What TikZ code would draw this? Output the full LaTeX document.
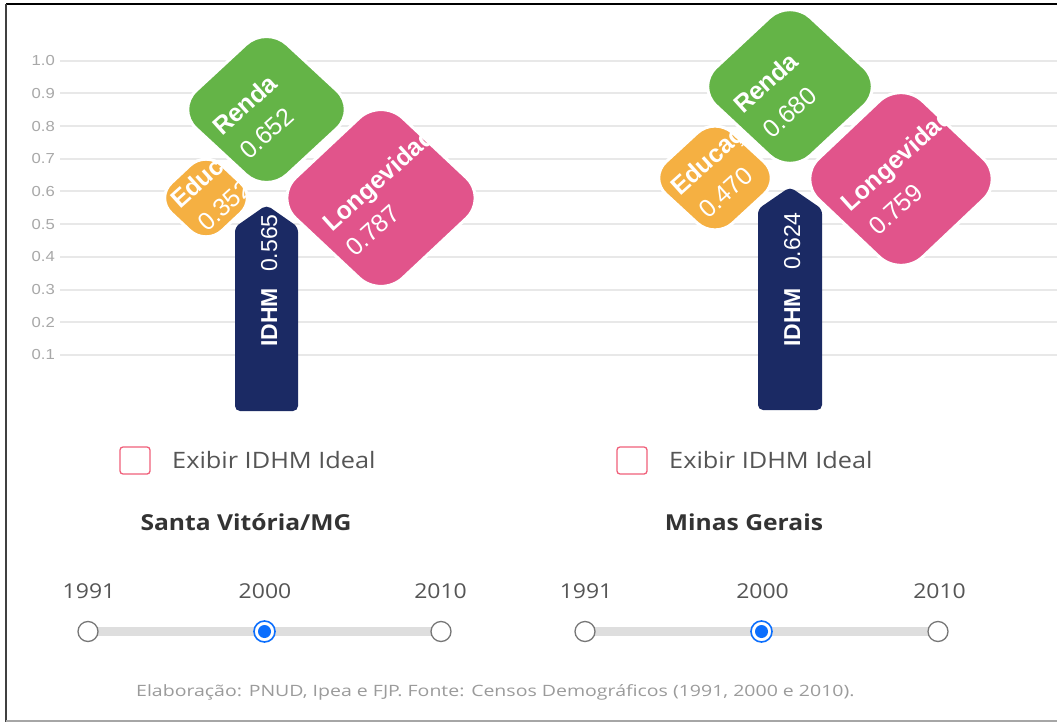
\documentclass[tikz,border=0pt]{standalone}
\usepackage{fontspec}
\setmainfont{Liberation Sans}
\newfontfamily\osans[FakeStretch=1.12]{Open Sans}
\newfontfamily\footfont[FakeStretch=1.25]{Open Sans}
\newfontfamily\axfont[FakeStretch=1.15]{Liberation Sans}
\definecolor{cRenda}{HTML}{64B447}
\definecolor{cLong}{HTML}{E1548B}
\definecolor{cEdu}{HTML}{F5B042}
\definecolor{cIdhm}{HTML}{1B2A64}
\definecolor{cGrid}{HTML}{E8E8E8}
\definecolor{cAxis}{HTML}{A8A8A8}
\definecolor{cText}{HTML}{555555}
\definecolor{cTitle}{HTML}{333333}
\definecolor{cCheck}{HTML}{F0607A}
\definecolor{cTrack}{HTML}{DEDEDE}
\definecolor{cRing}{HTML}{777777}
\definecolor{cBlue}{HTML}{0B6EFD}
\definecolor{cFoot}{HTML}{9B9B9B}
\tikzset{
  dia/.style n args={4}{insert path={(#1,#2-#4) -- (#1+#3,#2) -- (#1,#2+#4) -- (#1-#3,#2) -- cycle}},
  gridline/.style={cGrid, line width=2pt},
  axlbl/.style={text=cAxis, inner sep=0pt, anchor=east, font=\axfont\fontsize{14.5}{14.5}\selectfont},
  petaltxt/.style={text=white, inner sep=0pt, anchor=base west, rotate=42, font=\fontsize{25}{25}\selectfont},
  bartxt/.style={text=white, inner sep=0pt, anchor=base west, rotate=90, font=\fontsize{23}{23}\selectfont},
  petaledge/.style={draw=white, line width=3pt},
  checkbox/.style={draw=cCheck, line width=1.3pt, rounded corners=3pt},
  uitxt/.style={text=cText, inner sep=0pt, font=\osans\fontsize{22.6}{22.6}\selectfont},
  titletxt/.style={text=cTitle, inner sep=0pt, anchor=base, font=\osans\bfseries\fontsize{22}{22}\selectfont},
  yeartxt/.style={text=cText, inner sep=0pt, anchor=base, font=\osans\fontsize{20.5}{20.5}\selectfont},
  track/.style={cTrack, line width=9pt},
  knob/.style={circle, draw=cRing, fill=white, line width=1.3pt, minimum size=20pt, inner sep=0pt},
  knobsel/.style={circle, draw=cBlue, fill=white, line width=1.6pt, minimum size=21pt, inner sep=0pt},
  knobdot/.style={circle, fill=cBlue, minimum size=13pt, inner sep=0pt},
}
\begin{document}
\begin{tikzpicture}[x=1pt,y=-1pt]
\useasboundingbox (0,0) rectangle (1057,722);
\fill[white] (0,0) rectangle (1057,722);
% frame
\draw[black, line width=1.5pt] (6,4) -- (1057,4);
\draw[black!75, line width=2pt] (6,4) -- (6,722);
\draw[black!35, line width=2pt] (6,720.8) -- (1057,720.8);
% grid and axis labels
\foreach \yy/\lab [count=\k] in {60.7/1.0, 93.4/0.9, 126.1/0.8, 158.8/0.7, 191.5/0.6, 224.2/0.5, 256.9/0.4, 289.6/0.3, 322.3/0.2, 355/0.1} {
  \draw[gridline] (60,\yy) -- (1057,\yy);
  \node[axlbl] (ax\k) at (55,\yy) {\lab};
}
% ---------------- left chart ----------------
% Educacao
\fill[cEdu, rounded corners=22pt, dia={206}{198}{50.7}{47.6}];
\begin{scope}
  \clip[rounded corners=22pt, dia={206}{198}{50.7}{47.6}];
  \node[petaltxt] (leduN) at (180,210) {\bfseries Educação};
  \node[petaltxt] (leduV) at (207,233) {0.352};
\end{scope}
\draw[petaledge, rounded corners=22pt, dia={206}{198}{50.7}{47.6}];
% Renda
\fill[cRenda, rounded corners=28pt, dia={266.5}{109.5}{90.8}{84.1}];
\begin{scope}
  \clip[rounded corners=28pt, dia={266.5}{109.5}{90.8}{84.1}];
  \node[petaltxt] (lrenN) at (222,137) {\bfseries Renda};
  \node[petaltxt] (lrenV) at (249,161) {0.652};
\end{scope}
\draw[petaledge, rounded corners=28pt, dia={266.5}{109.5}{90.8}{84.1}];
% Longevidade
\fill[cLong, rounded corners=30pt, dia={381}{198}{107}{100.4}];
\begin{scope}
  \clip[rounded corners=30pt, dia={381}{198}{107}{100.4}];
  \node[petaltxt] (llonN) at (332,233) {\bfseries Longevidade};
  \node[petaltxt] (llonV) at (355,258) {0.787};
\end{scope}
\draw[petaledge, rounded corners=30pt, dia={381}{198}{107}{100.4}];
% IDHM bar
\fill[cIdhm, rounded corners=5pt] (235,411) -- (235,227) -- (266.5,205) -- (298,227) -- (298,411) -- cycle;
\node[bartxt] (lidN) at (277,347) {\bfseries IDHM};
\node[bartxt] (lidV) at (277,272) {0.565};
% ---------------- right chart ----------------
\fill[cEdu, rounded corners=24pt, dia={715}{178}{66.6}{61.4}];
\begin{scope}
  \clip[rounded corners=24pt, dia={715}{178}{66.6}{61.4}];
  \node[petaltxt] (reduN) at (680,197) {\bfseries Educação};
  \node[petaltxt] (reduV) at (708,220) {0.470};
\end{scope}
\draw[petaledge, rounded corners=24pt, dia={715}{178}{66.6}{61.4}];
\fill[cRenda, rounded corners=28pt, dia={790}{86.5}{94.3}{88}];
\begin{scope}
  \clip[rounded corners=28pt, dia={790}{86.5}{94.3}{88}];
  \node[petaltxt] (rrenN) at (743,115) {\bfseries Renda};
  \node[petaltxt] (rrenV) at (772,140) {0.680};
\end{scope}
\draw[petaledge, rounded corners=28pt, dia={790}{86.5}{94.3}{88}];
\fill[cLong, rounded corners=30pt, dia={901}{179}{104}{98.4}];
\begin{scope}
  \clip[rounded corners=30pt, dia={901}{179}{104}{98.4}];
  \node[petaltxt] (rlonN) at (850,213) {\bfseries Longevidade};
  \node[petaltxt] (rlonV) at (878,237) {0.759};
\end{scope}
\draw[petaledge, rounded corners=30pt, dia={901}{179}{104}{98.4}];
\fill[cIdhm, rounded corners=5pt] (758,410) -- (758,209) -- (790,187) -- (822,209) -- (822,410) -- cycle;
\node[bartxt] (ridN) at (800,347) {\bfseries IDHM};
\node[bartxt] (ridV) at (800,270) {0.624};
% ---------------- controls ----------------
\draw[checkbox] (120,447) rectangle (150,474);
\node[uitxt, anchor=base west] (lexb) at (172,468) {Exibir IDHM Ideal};
\draw[checkbox] (617,447) rectangle (647,474);
\node[uitxt, anchor=base west] (rexb) at (669,468) {Exibir IDHM Ideal};
\node[titletxt] (ltitle) at (246,530) {Santa Vitória/MG};
\node[titletxt] (rtitle) at (744,530) {Minas Gerais};
% left slider
\node[yeartxt] (ly1) at (89,598) {1991};
\node[yeartxt] (ly2) at (265,598) {2000};
\node[yeartxt] (ly3) at (440.5,598) {2010};
\coordinate (lt1) at (88,631.5);
\coordinate (lt3) at (441,631.5);
\draw[track] (lt1) -- (lt3);
\node[knob] (lk1) at (88,631.5) {};
\node[knob] (lk3) at (441,631.5) {};
\node[knobsel] (lk2) at (264.5,631.5) {};
\node[knobdot] (lk2d) at (264.5,631.5) {};
% right slider
\node[yeartxt] (ry1) at (586,598) {1991};
\node[yeartxt] (ry2) at (762.5,598) {2000};
\node[yeartxt] (ry3) at (939.5,598) {2010};
\coordinate (rt1) at (585,631.5);
\coordinate (rt3) at (938,631.5);
\draw[track] (rt1) -- (rt3);
\node[knob] (rk1) at (585,631.5) {};
\node[knob] (rk3) at (938,631.5) {};
\node[knobsel] (rk2) at (761.5,631.5) {};
\node[knobdot] (rk2d) at (761.5,631.5) {};
% footer
\node[text=cFoot, inner sep=0pt, anchor=base west, font=\footfont\fontsize{15.6}{15.6}\selectfont] (foot) at (136,696) {Elaboração: PNUD, Ipea e FJP. Fonte: Censos Demográficos (1991, 2000 e 2010).};
\end{tikzpicture}
\end{document}
